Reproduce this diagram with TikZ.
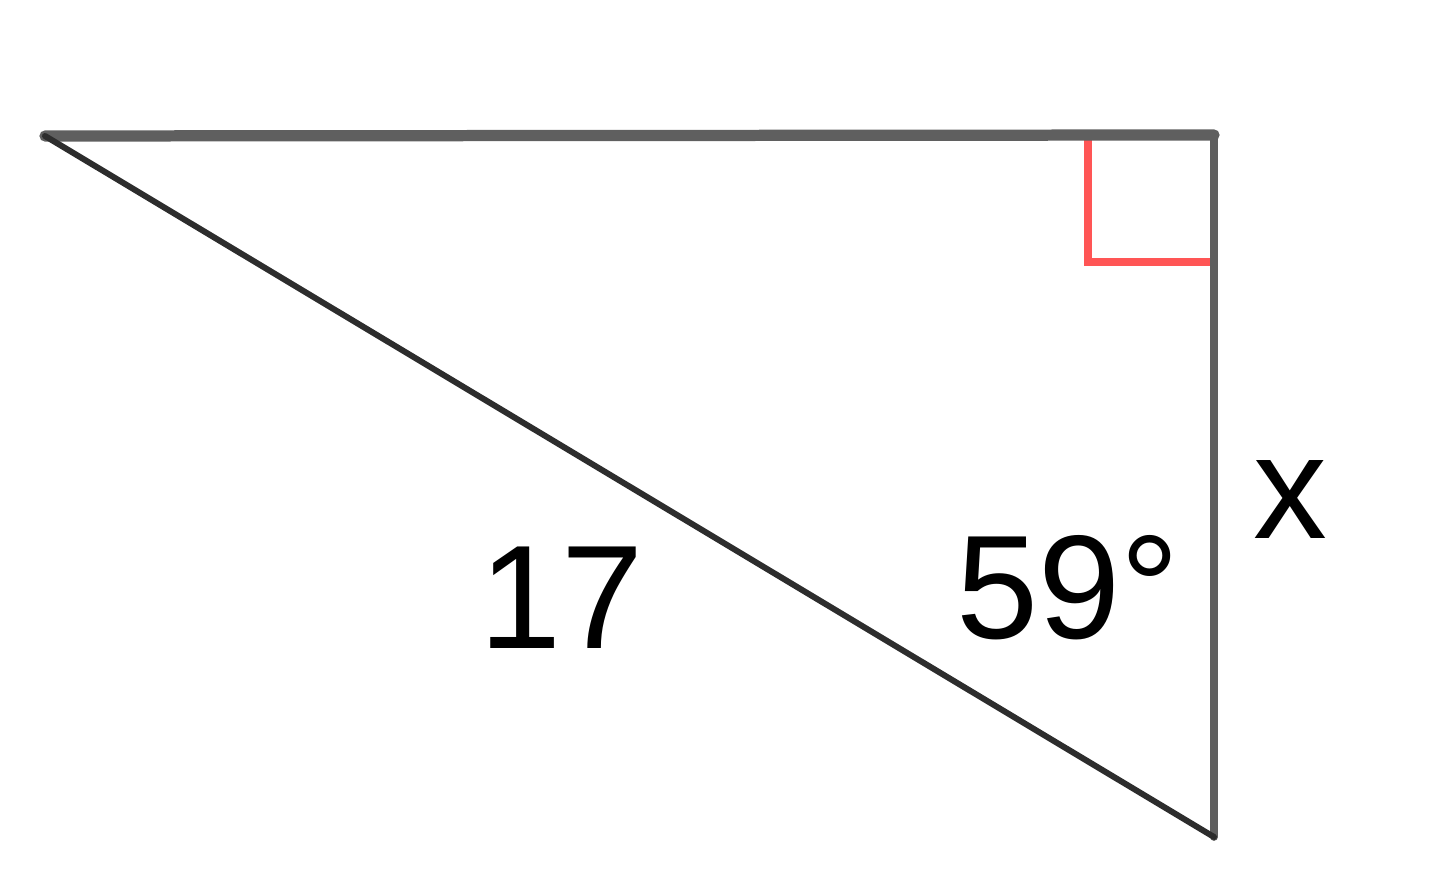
\documentclass[tikz,border=0pt]{standalone}
\usepackage{fontspec}
\setmainfont{Liberation Sans}
\definecolor{edgegray}{RGB}{95,95,95}
\definecolor{hypgray}{RGB}{45,45,45}
\definecolor{markred}{RGB}{255,85,85}
\tikzset{
  side/.style={draw=edgegray, line width=2.2pt, line cap=round},
  topside/.style={draw=edgegray, line width=3.2pt, line cap=round},
  hyp/.style={draw=hypgray, line width=1.7pt, line cap=round},
  rightmark/.style={draw=markred, line width=2.4pt},
  lbl/.style={font=\fontsize{42}{50}\selectfont, inner sep=0pt}
}
\begin{document}
\begin{tikzpicture}
\useasboundingbox (0,0) rectangle (14.4,8.78);
% vertices of the triangle
\coordinate (A) at (0.45,7.42);
\coordinate (C) at (12.14,7.43);
\coordinate (B) at (12.14,0.41);
\draw[rightmark] (10.88,7.43) -- (10.88,6.16) -- (C |- 0,6.16); % right angle mark
\draw[side] (C) -- (B);
\draw[topside] (A) -- (C);
\draw[hyp] (A) -- (B);
\node[lbl] (len) at (5.62,2.8) {17};
\node[lbl] (ang) at (10.68,2.9) {59°};
\node[lbl] (side) at (12.9,3.78) {x};
\end{tikzpicture}
\end{document}
